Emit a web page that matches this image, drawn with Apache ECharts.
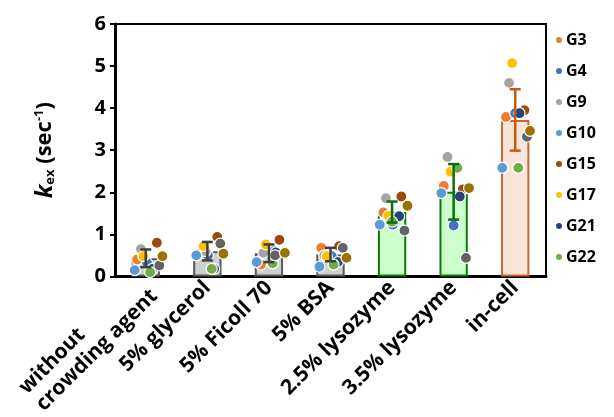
<!DOCTYPE html>
<html><head><meta charset="utf-8">
<script src="https://cdn.jsdelivr.net/npm/echarts@6/dist/echarts.min.js"></script>
<style>html,body{margin:0;padding:0;background:#fff}#c{width:614px;height:417px}</style>
</head><body><div id="c"></div>
<script>
const categories = ['without\ncrowding agent','5% glycerol','5% Ficoll 70','5% BSA','2.5% lysozyme','3.5% lysozyme','in-cell'];
const means = [0.43, 0.60, 0.55, 0.52, 1.53, 2.01, 3.72];
const errors = [0.21, 0.22, 0.21, 0.16, 0.25, 0.66, 0.73];
const yTicks = [0,1,2,3,4,5,6];
const seriesNames = ['G3','G4','G9','G10','G15','G17','G21','G22','G23','G24'];
const legendNames = ['G3','G4','G9','G10','G15','G17','G21','G22'];
const G3  = [0.40, 0.54, 0.28, 0.68, 1.52, 2.15, 3.79];
const G4  = [0.32, 0.50, 0.60, 0.48, 1.23, 1.21, 3.88];
const G9  = [0.65, 0.60, 0.56, 0.50, 1.86, 2.84, 4.60];
const G10 = [0.15, 0.50, 0.34, 0.23, 1.23, 1.98, 2.58];
const G15 = [0.80, 0.94, 0.87, 0.72, 1.90, 2.07, 3.95];
const G17 = [0.48, 0.72, 0.76, 0.48, 1.44, 2.49, 5.07];
const G21 = [0.18, 0.18, 0.57, 0.34, 1.43, 1.90, 3.88];
const G22 = [0.10, 0.18, 0.31, 0.28, 1.30, 2.58, 2.58];
const G23 = [0.26, 0.78, 0.50, 0.68, 1.09, 0.44, 3.32];
const G24 = [0.48, 0.54, 0.56, 0.44, 1.68, 2.10, 3.46];
const seriesValues = [G3,G4,G9,G10,G15,G17,G21,G22,G23,G24];
// horizontal jitter of each dot within its category (category units)
const jitter = [
  [-0.14,-0.13,-0.13,-0.15,-0.14,-0.16,-0.15],
  [ 0.02, 0.01, 0.08, 0.02, 0.01, 0.00, 0.00],
  [-0.08,-0.03,-0.09,-0.10,-0.10,-0.10,-0.10],
  [-0.18,-0.18,-0.20,-0.18,-0.20,-0.20,-0.21],
  [ 0.18, 0.16, 0.17, 0.14, 0.15, 0.15, 0.15],
  [-0.04,-0.06,-0.05,-0.06,-0.06,-0.05,-0.05],
  [ 0.11, 0.11, 0.11, 0.12, 0.115,0.10, 0.07],
  [ 0.07, 0.07, 0.06, 0.05, 0.00, 0.06, 0.05],
  [ 0.22, 0.21, 0.10, 0.20, 0.20, 0.20, 0.19],
  [ 0.27, 0.26, 0.26, 0.26, 0.25, 0.25, 0.24]
];
const dotColors = ['#ED7D31','#4472C4','#A5A5A5','#5B9BD5','#9E480E','#FFC000','#264478','#70AD47','#636363','#997300'];
const barFill   = ['#D0D0D0','#D0D0D0','#D0D0D0','#D0D0D0','#CCFFCC','#CCFFCC','#F8E5DA'];
const barBorder = ['#595959','#595959','#595959','#595959','#0B7A0B','#0B7A0B','#CC6633'];
const errColor  = ['#404040','#404040','#404040','#404040','#0B6E0B','#0B6E0B','#C55A11'];

const FONT = '"Open Sans", "Noto Sans", sans-serif';
const chart = echarts.init(document.getElementById('c'), null, {renderer:'canvas'});

const series = [];
series.push({
  type:'bar', xAxisIndex:0, yAxisIndex:0, barWidth:'46%', z:1,
  data: means.map((m,i)=>({value:m, itemStyle:{color:barFill[i], borderColor:barBorder[i], borderWidth:2}})),
  silent:true
});
seriesValues.forEach((vals, s)=>{
  series.push({
    name: seriesNames[s], type:'scatter', xAxisIndex:1, yAxisIndex:0, z:3,
    symbol:'circle', symbolSize:11,
    itemStyle:{color:dotColors[s], borderColor:'#fff', borderWidth:1.2, opacity:1},
    data: vals.map((v,i)=>[i + jitter[s][i], v])
  });
});
series.push({
  type:'custom', xAxisIndex:0, yAxisIndex:0, z:5, silent:true,
  data: means.map((m,i)=>[i, m - errors[i], m + errors[i]]),
  renderItem: function(params, api){
    const i = api.value(0);
    const lo = api.coord([i, api.value(1)]);
    const hi = api.coord([i, api.value(2)]);
    const hw = 5.5;
    const st = {stroke: errColor[params.dataIndex], lineWidth: 2.5, fill:null};
    return {type:'group', children:[
      {type:'line', shape:{x1:hi[0], y1:hi[1], x2:lo[0], y2:lo[1]}, style:st},
      {type:'line', shape:{x1:hi[0]-hw, y1:hi[1], x2:hi[0]+hw, y2:hi[1]}, style:st},
      {type:'line', shape:{x1:lo[0]-hw, y1:lo[1], x2:lo[0]+hw, y2:lo[1]}, style:st}
    ]};
  }
});

chart.setOption({
  animation:false,
  backgroundColor:'#fff',
  grid:{left:115, right:68, top:24, bottom:140, show:true, borderColor:'#000', borderWidth:2, backgroundColor:'transparent'},
  legend:{
    data: legendNames, orient:'vertical', left:549, top:25,
    itemWidth:8, itemHeight:8, itemGap:11, icon:'circle',
    textStyle:{fontFamily:FONT, fontWeight:'bold', fontSize:16, color:'#000', padding:[0,0,0,-2], lineHeight:20}
  },
  xAxis:[
    {type:'category', data:categories, gridIndex:0,
     axisLine:{show:true, onZero:false, lineStyle:{color:'#000', width:3}},
     axisTick:{show:false},
     axisLabel:{rotate:45, interval:0, margin:8, color:'#000', fontFamily:FONT, fontWeight:'bold', fontSize:21,
       formatter: v => v.split('\n').map(t=>'{l|'+t+'}').join('\n'),
       rich:{l:{align:'left', fontFamily:FONT, fontWeight:'bold', fontSize:21, color:'#000', lineHeight:24}}}
    },
    {type:'value', gridIndex:0, min:-0.5, max:6.5, show:false}
  ],
  yAxis:[{
    type:'value', min:0, max:6, interval:1,
    axisLine:{show:true, onZero:false, lineStyle:{color:'#000', width:3}},
    axisTick:{show:true, inside:false, length:5, lineStyle:{color:'#000', width:2}},
    splitLine:{show:false},
    axisLabel:{color:'#000', fontFamily:FONT, fontWeight:'bold', fontSize:20, margin:9,
      formatter: v => yTicks.includes(v) ? String(v) : ''},
    name:'{k|k}{sub|ex}{t| (sec}{sup|-1}{t|)}',
    nameLocation:'middle', nameRotate:90, nameGap:58,
    nameTextStyle:{rich:{
      k:{fontFamily:FONT, fontWeight:'bold', fontStyle:'italic', fontSize:24, color:'#000'},
      sub:{fontFamily:FONT, fontWeight:'bold', fontSize:13, color:'#000', padding:[11,0,0,0]},
      t:{fontFamily:FONT, fontWeight:'bold', fontSize:22, color:'#000'},
      sup:{fontFamily:FONT, fontWeight:'bold', fontSize:13, color:'#000', padding:[0,0,11,0]}
    }}
  }],
  series: series
});
</script></body></html>
